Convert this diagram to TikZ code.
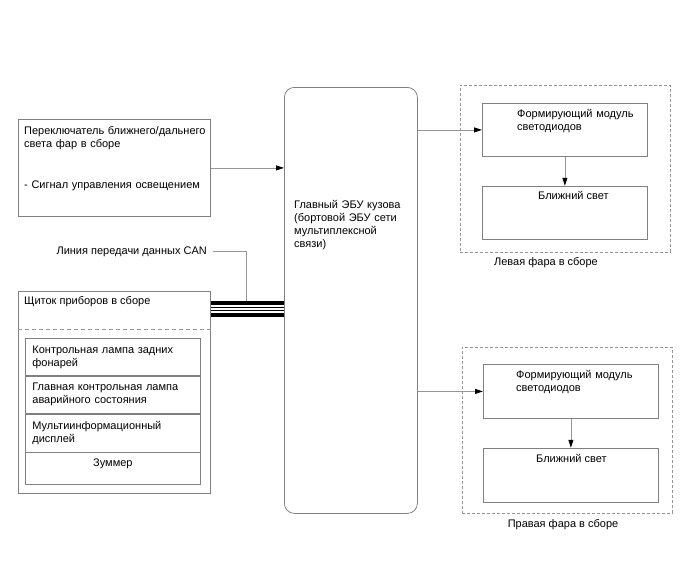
\documentclass[tikz,border=0pt]{standalone}
\usepackage{fontspec}
\setmainfont{Liberation Sans}
\usetikzlibrary{positioning, calc, arrows.meta}
\definecolor{framegray}{RGB}{128,128,128}
\definecolor{wiregray}{RGB}{150,150,150}

\begin{document}
\begin{tikzpicture}[x=1pt, y=-1pt,
    font=\fontsize{11}{13}\selectfont,
    blk/.style={draw=framegray, line width=0.8pt, anchor=north west, inner sep=0pt},
    grp/.style={blk, draw=wiregray, dash pattern=on 3pt off 2pt},
    txt/.style={anchor=base west, inner sep=0pt, align=left},
    cell/.style={draw=framegray, line width=0.8pt, text width=161pt, align=left,
      inner xsep=7pt, inner ysep=0pt},
    wire/.style={draw=wiregray, line width=0.8pt, -{Triangle[length=8pt, width=5pt, black]}},
    bus/.style={line width=4pt, black},
    node distance=0pt,
  ]
    \useasboundingbox (0,0) rectangle (688,560);

    \node[blk, minimum width=192pt, minimum height=97pt] (sw) at (18,119) {};
    \node[txt, text width=186pt] (swtxt) at ($(sw.north west)+(6,15.5)$)
      {Переключатель ближнего/дальнего\\света фар в сборе\\[27.5pt]- Сигнал управления освещением};

    \node[blk, rounded corners=10pt, minimum width=133pt, minimum height=426pt] (ecu) at (284,87) {};
    \node[txt, text width=122pt] (ecutxt) at ($(ecu.north west)+(10,121)$)
      {Главный ЭБУ кузова\\(бортовой ЭБУ сети\\мультиплексной\\связи)};

    \node[blk, minimum width=192pt, minimum height=202pt] (cl) at (18,291) {};
    \node[txt] (cltxt) at ($(cl.north west)+(6,13)$) {Щиток приборов в сборе};
    \draw[wiregray, line width=0.8pt, dash pattern=on 4pt off 3pt]
      ($(cl.north west)+(0,38)$) -- ($(cl.north east)+(0,38)$);

    \node[cell, minimum height=37pt, anchor=north west] (c1) at (25,338) {Контрольная лампа задних\\фонарей};
    \node[cell, minimum height=37pt, below=of c1] (c2) {Главная контрольная лампа\\аварийного состояния};
    \node[cell, minimum height=38pt, below=of c2] (c3) {Мультиинформационный\\дисплей};
    \node[cell, minimum height=32pt, below=of c3, align=center, text depth=13pt] (c4) {Зуммер};

    \node[txt, anchor=base east] (can) at (207,254) {Линия передачи данных CAN};
    \coordinate (busa) at ($(cl.north east)+(0,11.5)$);
    \coordinate (busb) at ($(cl.north east)+(0,16)$);
    \coordinate (busc) at ($(cl.north east)+(0,19)$);
    \coordinate (busd) at ($(cl.north east)+(0,23.7)$);
    \coordinate (tap) at ($(busa)+(36,-2)$);
    \draw[bus] (busa) -- (busa -| ecu.west);
    \draw[black, line width=1pt] (busb) -- (busb -| ecu.west);
    \draw[black, line width=1pt] (busc) -- (busc -| ecu.west);
    \draw[bus] (busd) -- (busd -| ecu.west);
    \draw[wiregray, line width=0.8pt] ([xshift=6pt]can.east) -| (tap);

    \node[grp, minimum width=210pt, minimum height=167pt] (lgrp) at (460,85) {};
    \node[blk, minimum width=165pt, minimum height=53pt] (lmod) at (482,103) {};
    \node[blk, minimum width=165pt, minimum height=53pt, below=29pt of lmod] (llow) {};
    \node[txt, text width=140pt] (lmodtxt) at ($(lmod.north west)+(35,14.5)$) {Формирующий модуль\\светодиодов};
    \node[txt] (llowtxt) at ($(llow.north west)+(56,13.5)$) {Ближний свет};
    \node[txt, anchor=base] (lcap) at (546,265.5) {Левая фара в сборе};

    \node[grp, minimum width=210pt, minimum height=166pt] (rgrp) at (462,347) {};
    \node[blk, minimum width=175pt, minimum height=54pt] (rmod) at (483,364) {};
    \node[blk, minimum width=175pt, minimum height=54pt, below=29pt of rmod] (rlow) {};
    \node[txt, text width=140pt] (rmodtxt) at ($(rmod.north west)+(33,14.5)$) {Формирующий модуль\\светодиодов};
    \node[txt] (rlowtxt) at ($(rlow.north west)+(53,15)$) {Ближний свет};
    \node[txt, anchor=base] (rcap) at (563,527) {Правая фара в сборе};

    \draw[wire] (sw.east) -- (sw.east -| ecu.west);
    \draw[wire] (ecu.east |- lmod.west) -- (lmod.west);
    \draw[wire] (ecu.east |- rmod.west) -- (rmod.west);
    \draw[wire] (lmod.south) -- (llow.north);
    \draw[wire] (rmod.south) -- (rlow.north);
  \end{tikzpicture}
\end{document}
